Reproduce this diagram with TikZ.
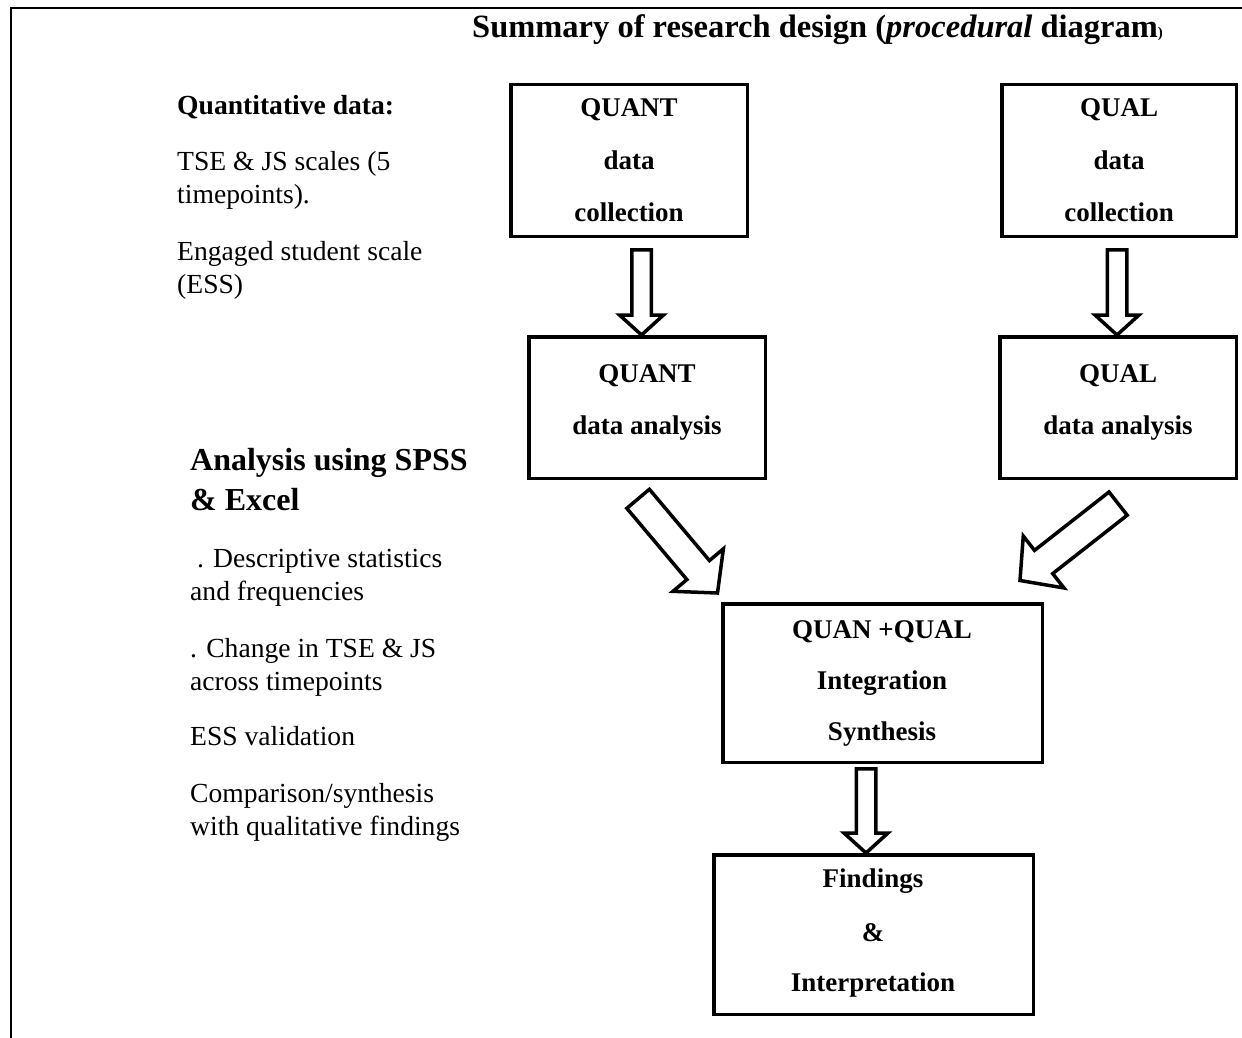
\documentclass[tikz,border=0pt]{standalone}
\usepackage{fontspec}
\setmainfont{Liberation Serif}
\usetikzlibrary{calc}
\tikzset{
  box/.style={draw, line width=3.5pt, inner sep=0pt},
  bt/.style={anchor=base, inner sep=0pt, font=\fontsize{27}{30}\selectfont\bfseries},
  lt/.style={anchor=base west, inner sep=0pt, font=\fontsize{27.6}{30}\selectfont},
  lh/.style={anchor=base west, inner sep=0pt, font=\fontsize{32}{34}\selectfont\bfseries},
  barrow/.style={draw, line width=3.5pt, fill=white, line join=miter},
  frame/.style={line width=2.2pt},
}
\newcommand\blockarr[5]{%
  \coordinate (BAh) at ($(#2)!#5!(#1)$);
  \draw[barrow] ($(#1)!#3!90:(#2)$) -- ($(BAh)!#3!-90:(#1)$) -- ($(BAh)!#4!-90:(#1)$)
    -- (#2) -- ($(BAh)!#4!90:(#1)$) -- ($(BAh)!#3!90:(#1)$) -- ($(#1)!#3!-90:(#2)$) -- cycle;}
\begin{document}
\begin{tikzpicture}[x=1pt,y=-1pt]
\useasboundingbox (0,0) rectangle (1242,1038);
% frame
\coordinate (fr1) at (11,1038);
\coordinate (fr2) at (11,8);
\coordinate (fr3) at (1242,8);
\draw[frame] (fr1) -- (fr2) -- (fr3);

% title
\node[anchor=base west, inner sep=0pt, font=\fontsize{32.5}{34}\selectfont\bfseries] (title) at (472,38)
  {Summary of research design (\textit{procedural} diagram{\fontsize{15}{16}\selectfont)}};

% boxes
\node[box, minimum width=236.5, minimum height=151.5] (qndc) at (629,160.5) {};
\node[box, minimum width=234.5, minimum height=151.5] (qldc) at (1119,160.5) {};
\node[box, minimum width=236.5, minimum height=141.5] (qnda) at (647,407.5) {};
\node[box, minimum width=236.5, minimum height=141.5] (qlda) at (1118,407.5) {};
\node[box, minimum width=319.5, minimum height=158.5] (integ) at (882.5,683) {};
\node[box, minimum width=319.5, minimum height=159.5] (find) at (873.5,934.5) {};

% box texts
\node[bt] (t1a) at (629,117) {QUANT};
\node[bt] (t1b) at (629,169) {data};
\node[bt] (t1c) at (629,221) {collection};
\node[bt] (t2a) at (1119,117) {QUAL};
\node[bt] (t2b) at (1119,169) {data};
\node[bt] (t2c) at (1119,221) {collection};
\node[bt] (t3a) at (647,382) {QUANT};
\node[bt] (t3b) at (647,434) {data analysis};
\node[bt] (t4a) at (1118,382) {QUAL};
\node[bt] (t4b) at (1118,434) {data analysis};
\node[bt] (t5a) at (882,638) {QUAN +QUAL};
\node[bt] (t5b) at (882,689) {Integration};
\node[bt] (t5c) at (882,740) {Synthesis};
\node[bt] (t6a) at (873,887) {Findings};
\node[bt] (t6b) at (873,941) {\&};
\node[bt] (t6c) at (873,991) {Interpretation};

% left texts
\node[lt, font=\fontsize{27.6}{30}\selectfont\bfseries] (q1) at (177,115) {Quantitative data:};
\node[lt] (q2) at (177,170) {TSE \& JS scales (5};
\node[lt] (q3) at (177,203) {timepoints).};
\node[lt] (q4) at (177,260) {Engaged student scale};
\node[lt] (q5) at (177,293) {(ESS)};

\node[lh] (a1) at (190,470) {Analysis using SPSS};
\node[lh] (a2) at (190,510) {\& Excel};
\node[lt] (a3) at (190,567) {\ . Descriptive statistics};
\node[lt] (a4) at (190,600) {and frequencies};
\node[lt] (a5) at (190,657) {. Change in TSE \& JS};
\node[lt] (a6) at (190,690) {across timepoints};
\node[lt] (a7) at (190,745) {ESS validation};
\node[lt] (a8) at (190,802) {Comparison/synthesis};
\node[lt] (a9) at (190,835) {with qualitative findings};

% arrow ends
\coordinate (ar1s) at (641.5,249.75);
\coordinate (ar1e) at (qnda.north -| ar1s);
\coordinate (ar2s) at (1117,249.75);
\coordinate (ar2e) at (qlda.north -| ar2s);
\coordinate (ar3s) at (866,768.75);
\coordinate (ar3e) at (find.north -| ar3s);
\coordinate (ar4s) at (638.1,498.8);
\coordinate (ar4e) at (717.5,593);
\coordinate (ar5s) at (1118.1,503.6);
\coordinate (ar5e) at (1020,580.5);

\blockarr{ar1s}{ar1e}{9.75pt}{22pt}{20pt}
\blockarr{ar2s}{ar2e}{9.75pt}{22pt}{20pt}
\blockarr{ar3s}{ar3e}{9.75pt}{22pt}{20pt}
\blockarr{ar4s}{ar4e}{14.75pt}{33pt}{30pt}
\blockarr{ar5s}{ar5e}{14.75pt}{33pt}{30pt}
\end{tikzpicture}
\end{document}
